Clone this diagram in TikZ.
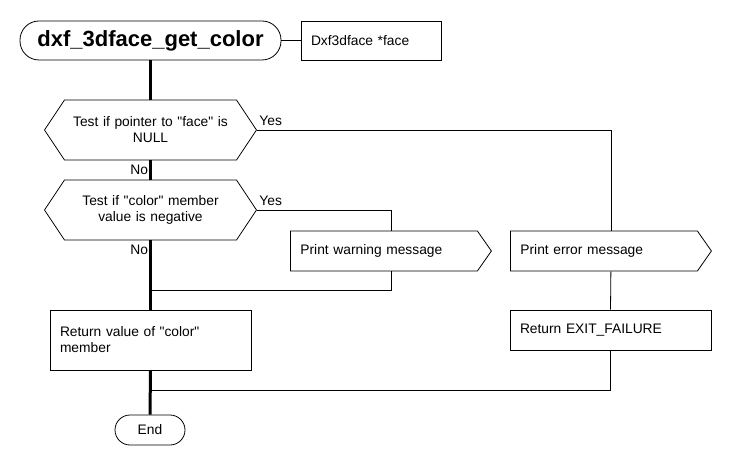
\documentclass[tikz,border=0pt]{standalone}
\usepackage{fontspec}
\setmainfont{Liberation Sans}
\usetikzlibrary{shapes.symbols}

\begin{document}
\begin{tikzpicture}
    [x=1pt, y=-1pt, line width=0.8pt,
     every node/.style={font=\fontsize{13.8}{16}\selectfont},
     term/.style={draw, rectangle, rounded corners=#1, inner sep=0pt},
     box/.style={draw, rectangle, inner xsep=10pt, inner ysep=0pt, align=left},
     test/.style={draw, signal, signal to=west and east, signal pointer angle=112.6,
                  text width=166pt, inner xsep=3pt, inner ysep=0pt, minimum height=60pt, align=center},
     outbox/.style={draw, signal, signal to=east, signal from=nowhere, signal pointer angle=110,
                 text width=167pt, inner xsep=10pt, inner ysep=0pt, minimum height=40pt, align=left},
     main/.style={line width=3pt},
     lbl/.style={inner sep=2pt}]

    \useasboundingbox (0,0) rectangle (730,470);

    \node[term=19pt, minimum width=261pt, minimum height=39pt,
          font=\fontsize{22}{26}\selectfont\bfseries] (title) at (150.5,40.5) {dxf\_3dface\_get\_color};
    \node[box, text width=120pt, minimum height=39pt] (param) at (371,40.5) {Dxf3dface *face};

    \node[test] (h1) at (150.5,130) {Test if pointer to \textquotedbl face\textquotedbl{} is\\NULL};
    \node[test] (h2) at (150.5,210) {Test if \textquotedbl color\textquotedbl{} member\\value is negative};

    \node[outbox, anchor=west] (warn) at (290,251) {Print warning message};
    \node[outbox, anchor=west] (err) at (510,251) {Print error message};

    \node[box, text width=181pt, minimum height=60pt] (ret) at (150.5,340) {Return value of \textquotedbl color\textquotedbl\\member};
    \node[box, text width=181pt, minimum height=40pt] (fail) at (610.5,330) {Return EXIT\_FAILURE};

    \node[term=15pt, minimum width=70pt, minimum height=30pt] (stop) at (150,430) {End};

    \coordinate (j1) at (150,290);
    \coordinate (j2) at (150,390);

    \draw[-] (title.east) -- (param.west);

    \draw[main] (title.south) -- (h1.north);
    \draw[main] (h1.south) -- (h2.north);
    \draw[main] (h2.south) -- (ret.north);
    \draw[main] (ret.south) -- (stop.north);

    \draw[-] (h1.east) node[lbl, above right, yshift=2pt] {Yes} -| ([xshift=7pt]err.north);
    \draw[-] (h2.east) node[lbl, above right, yshift=2pt] {Yes} -| ([xshift=7pt]warn.north);
    \node[lbl, anchor=north east, yshift=-2pt] at (h1.south) {No};
    \node[lbl, anchor=north east, yshift=-2pt] at (h2.south) {No};

    \draw[-] ([xshift=7pt]warn.south) |- (j1);
    \draw[-] ([xshift=7pt]err.south) -- (fail.north);
    \draw[-] (fail.south) |- (j2);
  \end{tikzpicture}
\end{document}
